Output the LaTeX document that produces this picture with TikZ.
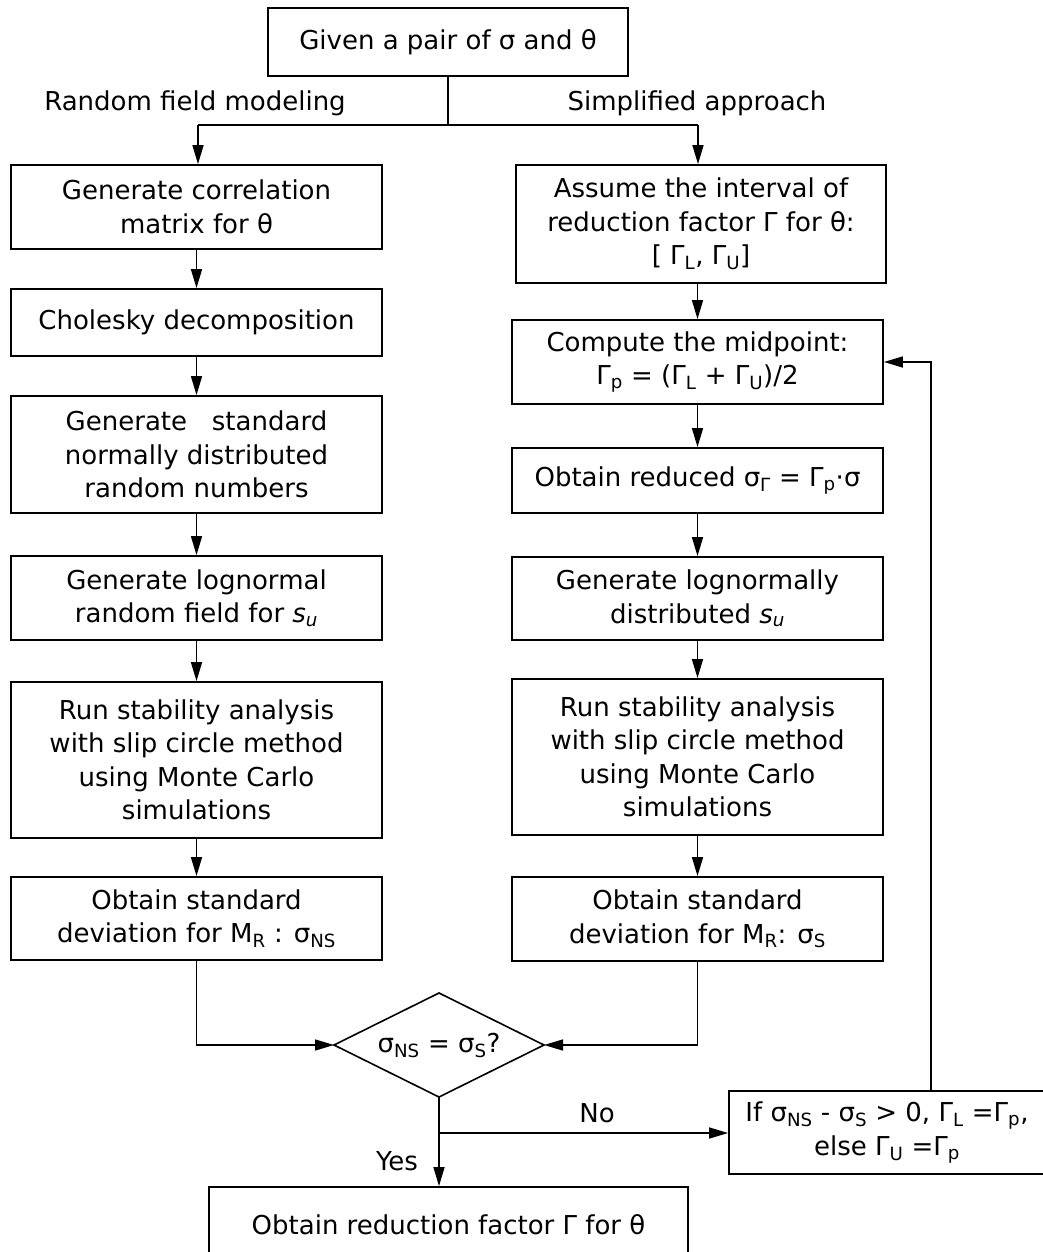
\documentclass[tikz,border=0pt]{standalone}
\usepackage{fontspec}
\setmainfont{DejaVu Sans}
\usetikzlibrary{arrows.meta,calc}
\newcommand\myfs{\fontsize{26}{33.5}\selectfont}
\newcommand\sg[1]{σ\textsubscript{#1}}
\newcommand\Gm[1]{Γ\textsubscript{#1}}
\begin{document}
\begin{tikzpicture}[x=1pt,y=-1pt,
 box/.style={draw,line width=1.8pt,align=center,inner sep=0pt,font=\myfs},
 arr/.style={line width=1.5pt,-{Triangle[length=19pt,width=11pt]}},
 ln/.style={line width=1.5pt},
 lbl/.style={font=\myfs,inner sep=0pt}]
\useasboundingbox (0,0) rectangle (1043,1252);
\fill[white] (0,0) rectangle (1043,1252);
% top
\node[box,minimum width=360pt,minimum height=68pt] (top) at (448,42) {Given a pair of σ and θ};
\node[lbl] (lab1) at (195,103) {Random field modeling};
\node[lbl] (lab2) at (697,103) {Simplified approach};
\coordinate (jT) at (448,125);
\coordinate (jL) at (198,125);
\coordinate (jR) at (698,125);
% left column
\node[box,minimum width=371pt,minimum height=84pt] (L1) at (196.5,207) {Generate correlation\\matrix for θ};
\node[box,minimum width=371pt,minimum height=67pt] (L2) at (196.5,322.5) {Cholesky decomposition};
\node[box,minimum width=371pt,minimum height=117pt] (L3) at (196.5,454.5) {Generate \ \ standard\\normally distributed\\random numbers};
\node[box,minimum width=371pt,minimum height=84pt] (L4) at (196.5,598) {Generate lognormal\\ random field for \textit{s}\textsubscript{\textit{u}}};
\node[box,minimum width=371pt,minimum height=156pt] (L5) at (196.5,760) {Run stability analysis\\with slip circle method\\using Monte Carlo\\simulations};
\node[box,minimum width=371pt,minimum height=83pt] (L6) at (196.5,918.5) {Obtain standard\\deviation for M\textsubscript{R} : \sg{NS}};
% right column
\node[box,minimum width=370pt,minimum height=118pt] (R1) at (701,224) {Assume the interval of\\reduction factor Γ for θ:\\{[} \Gm{L}, \Gm{U}{]}};
\node[box,minimum width=371pt,minimum height=84pt] (R2) at (697.5,362) {Compute the midpoint:\\\Gm{p} = (\Gm{L} + \Gm{U})/2};
\node[box,minimum width=371pt,minimum height=65pt] (R3) at (697.5,480.5) {Obtain reduced \sg{Γ} = \Gm{p}·σ};
\node[box,minimum width=371pt,minimum height=83pt] (R4) at (697.5,598.5) {Generate lognormally\\distributed \textit{s}\textsubscript{\textit{u}}};
\node[box,minimum width=371pt,minimum height=156pt] (R5) at (697.5,757) {Run stability analysis\\with slip circle method\\using Monte Carlo\\simulations};
\node[box,minimum width=371pt,minimum height=84pt] (R6) at (697.5,919) {Obtain standard\\deviation for M\textsubscript{R}: \sg{S}};
% diamond
\node[lbl] (dia) at (439,1045) {\sg{NS} = \sg{S}?};
\coordinate (dL) at (334,1045);
\coordinate (dR) at (544,1045);
\coordinate (dT) at (439,993);
\coordinate (dB) at (439,1097);
\draw[line width=1.6pt,line join=miter] (dL) -- (dT) -- (dR) -- (dB) -- cycle;
% if box and final
\node[box,minimum width=316pt,minimum height=83pt] (ifb) at (887,1132.5) {If \sg{NS} - \sg{S} > 0, \Gm{L} =\Gm{p},\\else \Gm{U} =\Gm{p}};
\node[box,minimum width=479pt,minimum height=75pt] (fin) at (448.5,1224.5) {Obtain reduction factor Γ for θ};
\node[lbl] (no) at (597,1113) {No};
\node[lbl] (yes) at (397,1161) {Yes};
% connectors
\draw[ln] (top.south) -- (jT);
\draw[ln] (jL) -- (jR);
\draw[arr] (jL) -- (jL |- L1.north);
\draw[arr] (jR) -- (jR |- R1.north);
\draw[arr] (L1) -- (L2);
\draw[arr] (L2) -- (L3);
\draw[arr] (L3) -- (L4);
\draw[arr] (L4) -- (L5);
\draw[arr] (L5) -- (L6);
\draw[arr] (R1.south -| R2) -- (R2.north);
\draw[arr] (R2) -- (R3);
\draw[arr] (R3) -- (R4);
\draw[arr] (R4) -- (R5);
\draw[arr] (R5) -- (R6);
\draw[arr] (L6.south) |- (dL);
\draw[arr] (R6.south) |- (dR);
\coordinate (jD) at (439,1133);
\draw[arr] (dB) -- (fin.north -| dB);
\draw[arr] (jD) -- (ifb.west |- jD);
\coordinate (fb) at (931,1091);
\draw[arr] (fb) |- (R2.east);
\end{tikzpicture}
\end{document}
